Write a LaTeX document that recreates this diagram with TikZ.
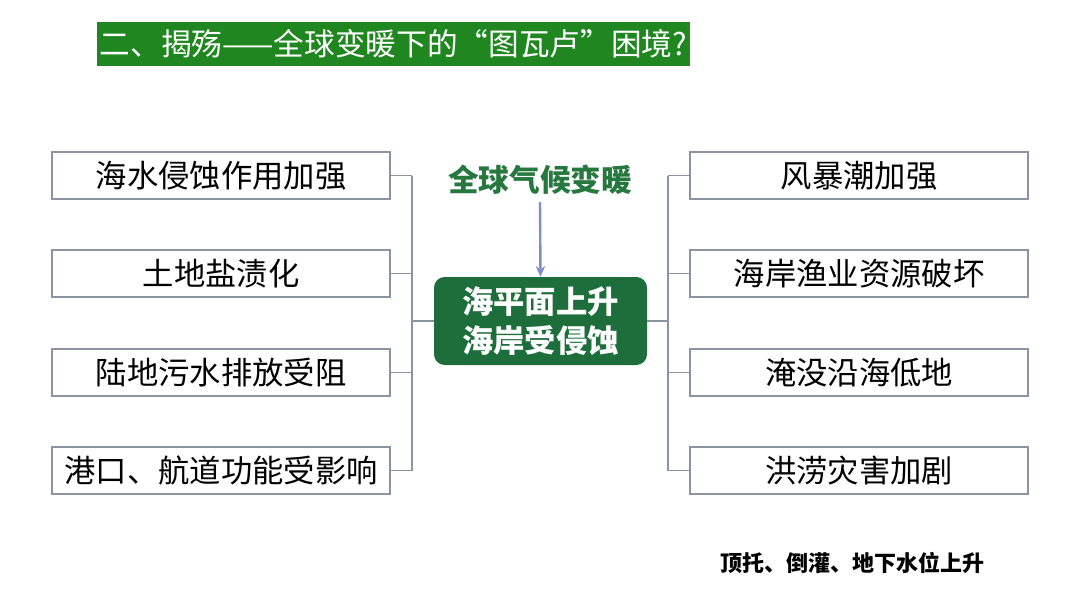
\documentclass[tikz,border=0pt]{standalone}
\usepackage{fontspec}
\setmainfont{Noto Sans CJK SC}
\newfontfamily\cjk{Noto Sans CJK SC}
\usetikzlibrary{arrows.meta}
\definecolor{titlegreen}{RGB}{32,135,32}
\definecolor{darkgreen}{RGB}{30,110,60}
\definecolor{topgreen}{RGB}{38,120,62}
\definecolor{boxline}{RGB}{140,148,162}
\definecolor{arrowblue}{RGB}{90,115,190}
\tikzset{
  itembox/.style={draw=boxline, line width=0.9pt, fill=white, minimum width=338*0.75pt, minimum height=47*0.75pt, inner sep=0pt, font=\cjk\fontsize{23.5pt}{26pt}\selectfont, text=black},
  conn/.style={draw=boxline, line width=0.9pt},
}
\begin{document}
\begin{tikzpicture}[x=0.75pt,y=-0.75pt]
\useasboundingbox (0,0) rectangle (1080,608);
\fill[white] (0,0) rectangle (1080,608);
% title
\node[fill=titlegreen, minimum width=593*0.75pt, minimum height=44*0.75pt, inner sep=0pt, text=white, font=\cjk\fontsize{23pt}{25pt}\selectfont] (title) at (393.5,44) {二、揭殇——全球变暖下的“图瓦卢”困境?};
% center
\node[fill=darkgreen, rounded corners=8pt, minimum width=213*0.75pt, minimum height=88*0.75pt, inner sep=0pt, text=white, align=center, font=\cjk\bfseries\fontsize{23.5pt}{29pt}\selectfont] (C) at (540.5,321) {海平面上升\\海岸受侵蚀};
\node[text=topgreen, inner sep=0pt, font=\cjk\bfseries\fontsize{23pt}{25pt}\selectfont] (top) at (540,180) {全球气候变暖};
\draw[arrowblue!80, line width=1.8pt, -{Stealth[length=8pt,width=7pt]}] (540,202) coordinate (as) -- (C.north);
% left boxes
\node[itembox] (L1) at (221,175.5) {海水侵蚀作用加强};
\node[itembox] (L2) at (221,273.5) {土地盐渍化};
\node[itembox] (L3) at (221,372.5) {陆地污水排放受阻};
\node[itembox] (L4) at (221,470.5) {港口、航道功能受影响};
% right boxes
\node[itembox] (R1) at (859,175.5) {风暴潮加强};
\node[itembox] (R2) at (859,273.5) {海岸渔业资源破坏};
\node[itembox] (R3) at (859,372.5) {淹没沿海低地};
\node[itembox] (R4) at (859,470.5) {洪涝灾害加剧};
% spines
\coordinate (lx) at (412,0);
\coordinate (rx) at (668,0);
\foreach \n in {L1,L2,L3,L4} \draw[conn] (\n.east) -- (\n.east -| lx);
\foreach \n in {R1,R2,R3,R4} \draw[conn] (\n.west) -- (\n.west -| rx);
\draw[conn] (L1.east -| lx) -- (L4.east -| lx);
\draw[conn] (R1.west -| rx) -- (R4.west -| rx);
\draw[conn] (C.west) -- (C.west -| lx);
\draw[conn] (C.east) -- (C.east -| rx);
% bottom note
\node[inner sep=0pt, text=black, font=\cjk\bfseries\fontsize{16.5pt}{18pt}\selectfont] (note) at (852,563) {顶托、倒灌、地下水位上升};
\end{tikzpicture}
\end{document}
